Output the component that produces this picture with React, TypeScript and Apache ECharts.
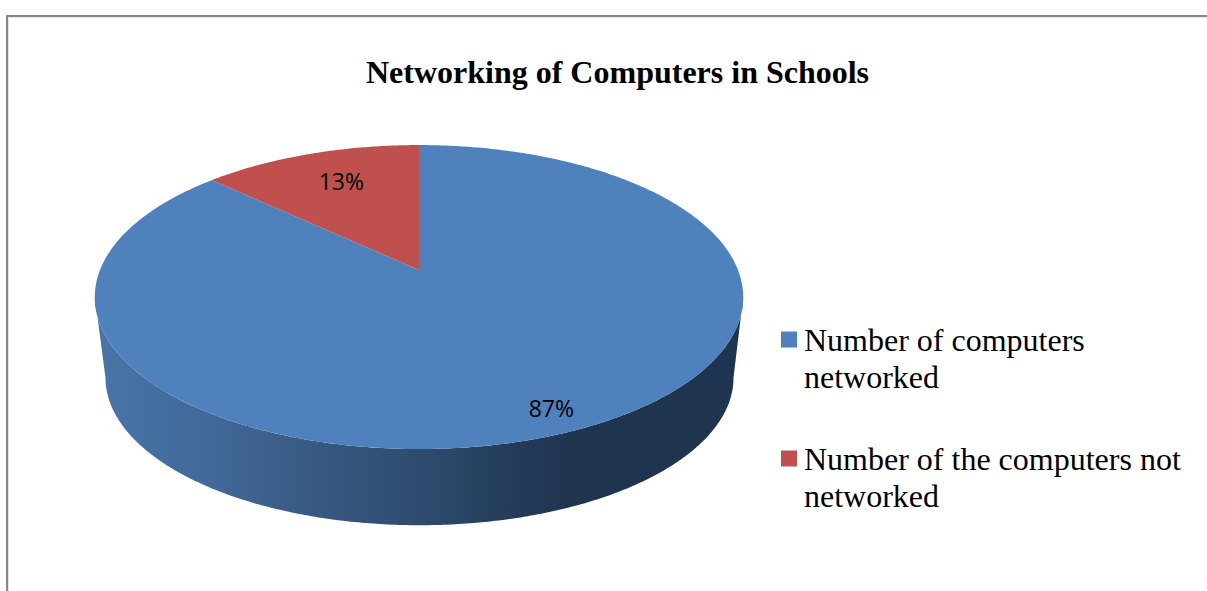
import React, { useEffect, useRef } from "react";
import * as echarts from "echarts";

const titleText = "Networking of Computers in Schools";
const categories = ["Number of computers\nnetworked", "Number of the computers not\nnetworked"];
const sliceValues = [87, 13];
const sliceColors = ["#4f81bd", "#c0504d"];
const labelRadii = [0.875, 0.74];
const labelShifts = [3, 6];

const total = sliceValues.reduce((a, b) => a + b, 0);
const TILT = 0.178;
const topDisc = { x: 419, y: 270, a: 319, b: 147.2 };
const baseDisc = { x: 419.5, y: 351.5, a: 309, b: 142.8 };
const SIDE_OFFSET = Math.asin(TILT);

// Angle t runs clockwise from 12 o'clock; r is the fraction of the radius.
function project(d: typeof topDisc, t: number, r = 1): number[] {
  const u = Math.sin(t) * r;
  const v = -Math.cos(t) * r;
  const w = 1 - TILT * v;
  return [d.x + (d.a * u) / w, d.y + (d.b * v) / w];
}

function arcPoints(d: typeof topDisc, from: number, to: number): number[][] {
  const n = Math.max(2, Math.ceil(Math.abs(to - from) / 0.01));
  const pts: number[][] = [];
  for (let i = 0; i <= n; i++) pts.push(project(d, from + ((to - from) * i) / n));
  return pts;
}

const wallGradient = {
  type: "linear",
  x: 0,
  y: 0,
  x2: 1,
  y2: 0,
  colorStops: [
    { offset: 0, color: "#4874a8" },
    { offset: 0.17, color: "#426a9a" },
    { offset: 0.33, color: "#385a83" },
    { offset: 0.49, color: "#2f4c70" },
    { offset: 0.65, color: "#243c59" },
    { offset: 0.74, color: "#1f344e" },
    { offset: 1, color: "#1f344e" },
  ],
};

function sliceRenderer(index: number) {
  const before = sliceValues.slice(0, index).reduce((a, b) => a + b, 0);
  const from = (before / total) * Math.PI * 2;
  const to = ((before + sliceValues[index]) / total) * Math.PI * 2;
  return () => {
    const children: any[] = [];
    const wallStart = Math.max(from, Math.PI / 2 + SIDE_OFFSET);
    const wallEnd = Math.min(to, Math.PI * 1.5 - SIDE_OFFSET);
    if (wallEnd > wallStart) {
      children.push({
        type: "polygon",
        shape: {
          points: [
            ...arcPoints(topDisc, wallStart, wallEnd),
            ...arcPoints(baseDisc, wallEnd, wallStart),
          ],
        },
        style: { fill: wallGradient },
      });
    }
    children.push({
      type: "polygon",
      shape: { points: [[topDisc.x, topDisc.y], ...arcPoints(topDisc, from, to)] },
      style: { fill: sliceColors[index] },
    });
    const [lx, ly] = project(topDisc, (from + to) / 2, labelRadii[index]);
    children.push({
      type: "text",
      x: lx + labelShifts[index],
      y: ly,
      style: {
        text: `${Math.round((sliceValues[index] / total) * 100)}%`,
        fill: "#000",
        font: '23px "Open Sans"',
        align: "center",
        verticalAlign: "middle",
      },
    });
    return { type: "group", children };
  };
}

export default function App() {
  const ref = useRef<HTMLDivElement>(null);
  useEffect(() => {
    const chart = echarts.init(ref.current!, undefined, { renderer: "svg" });
    chart.setOption({
      animation: false,
      backgroundColor: "#fff",
      title: {
        text: titleText,
        left: 617.5,
        top: 56,
        padding: 0,
        textAlign: "center",
        textStyle: {
          fontFamily: "Liberation Serif",
          fontWeight: "bold",
          fontSize: 32,
          color: "#000",
        },
      },
      legend: {
        orient: "vertical",
        left: 781,
        top: 284,
        padding: 0,
        icon: "rect",
        itemWidth: 16,
        itemHeight: 16,
        itemGap: 8,
        selectedMode: false,
        data: categories,
        formatter: (name: string) => `\n${name}`,
        textStyle: {
          fontFamily: "Liberation Serif",
          fontSize: 32,
          lineHeight: 37,
          color: "#000",
          padding: [0, 0, 0, 2],
        },
      },
      graphic: [
        { type: "line", shape: { x1: 8, y1: 17.5, x2: 1207, y2: 17.5 }, style: { stroke: "#e4e4e4", lineWidth: 1 } },
        { type: "line", shape: { x1: 8.5, y1: 17, x2: 8.5, y2: 591 }, style: { stroke: "#e4e4e4", lineWidth: 1 } },
        { type: "line", shape: { x1: 6, y1: 16, x2: 1207, y2: 16 }, style: { stroke: "#888888", lineWidth: 2 } },
        { type: "line", shape: { x1: 7, y1: 15, x2: 7, y2: 591 }, style: { stroke: "#888888", lineWidth: 2 } },
      ],
      series: categories.map((name, i) => ({
        type: "custom",
        name,
        coordinateSystem: "none",
        silent: true,
        itemStyle: { color: sliceColors[i] },
        data: [sliceValues[i]],
        renderItem: sliceRenderer(i),
      })),
    });
    return () => chart.dispose();
  }, []);
  return <div ref={ref} style={{ position: "absolute", left: 0, top: 0, width: 1207, height: 591 }} />;
}
